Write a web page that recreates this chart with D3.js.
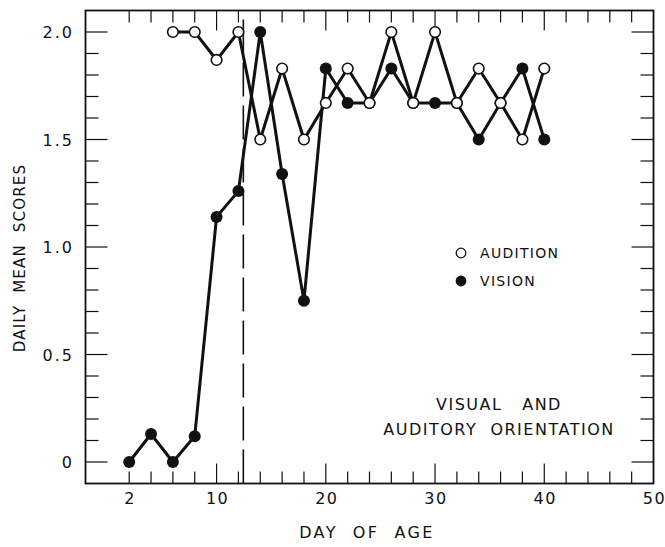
<!DOCTYPE html>
<html>
<head>
<meta charset="utf-8">
<script src="https://cdn.jsdelivr.net/npm/d3@7"></script>
<style>
  html, body { margin: 0; padding: 0; background: #fff; }
  svg text { font-family: "DejaVu Sans", "Liberation Sans", sans-serif; fill: #111; white-space: pre; }
</style>
</head>
<body>
<svg id="chart" width="665" height="547"></svg>
<script>
// ---- data ----
const visionDays   = [2, 4, 6, 8, 10, 12, 14, 16, 18, 20, 22, 24, 26, 28, 30, 32, 34, 36, 38, 40];
const visionScores = [0, 0.13, 0, 0.12, 1.14, 1.26, 2.0, 1.34, 0.75, 1.83, 1.67, 1.67, 1.83, 1.67, 1.67, 1.67, 1.5, 1.67, 1.83, 1.5];
const auditionDays   = [6, 8, 10, 12, 14, 16, 18, 20, 22, 24, 26, 28, 30, 32, 34, 36, 38, 40];
const auditionScores = [2.0, 2.0, 1.87, 2.0, 1.5, 1.83, 1.5, 1.67, 1.83, 1.67, 2.0, 1.67, 2.0, 1.67, 1.83, 1.67, 1.5, 1.83];
const xTickLabels = [2, 10, 20, 30, 40, 50];
const yTickLabels = [0, 0.5, 1.0, 1.5, 2.0];
const dashedDay = 12.45;
const legendLabels = ["AUDITION", "VISION"];
const noteLines = ["VISUAL   AND", "AUDITORY  ORIENTATION"];
const xTitle = "DAY  OF  AGE";
const yTitle = "DAILY  MEAN  SCORES";

// ---- layout ----
const svg = d3.select("#chart");
const x = d3.scaleLinear().domain([-2, 50]).range([85.5, 653.5]);
const y = d3.scaleLinear().domain([-0.1, 2.1]).range([483.5, 10.5]);
const [x0, x1] = x.range();
const [y0, y1] = y.range();

// frame
svg.append("rect")
  .attr("x", x0).attr("y", y1).attr("width", x1 - x0).attr("height", y0 - y1)
  .attr("fill", "none").attr("stroke", "#111").attr("stroke-width", 1.8);

const xMinor = d3.range(2, 50, 2);
const yMinor = d3.range(0, 2.001, 0.1).map(v => +v.toFixed(1));
const isXMajor = d => d % 10 === 0;
const isYMajor = v => Math.abs(v * 2 - Math.round(v * 2)) < 1e-6;

// bottom & top ticks
const tickG = svg.append("g").attr("stroke", "#111").attr("stroke-width", 1.2);
xMinor.forEach(d => {
  const len = isXMajor(d) ? 20 : 12;
  tickG.append("line").attr("x1", x(d)).attr("x2", x(d)).attr("y1", y0).attr("y2", y0 - len);
  tickG.append("line").attr("x1", x(d)).attr("x2", x(d)).attr("y1", y1).attr("y2", y1 + len);
});
// left & right ticks
yMinor.forEach(v => {
  const len = isYMajor(v) ? 22 : 13;
  tickG.append("line").attr("x1", x0).attr("x2", x0 + len).attr("y1", y(v)).attr("y2", y(v));
  tickG.append("line").attr("x1", x1).attr("x2", x1 - len).attr("y1", y(v)).attr("y2", y(v));
});

// tick labels
svg.append("g").selectAll("text").data(xTickLabels).join("text")
  .attr("x", d => x(d) + 1).attr("y", 504)
  .attr("text-anchor", "middle").attr("font-size", 16).attr("letter-spacing", 1.5)
  .text(d => d);
svg.append("g").selectAll("text").data(yTickLabels).join("text")
  .attr("x", 74).attr("y", v => y(v) + 6)
  .attr("text-anchor", "end").attr("font-size", 16).attr("letter-spacing", 2)
  .text(v => v === 0 ? "0" : v.toFixed(1));

// axis titles
svg.append("text").attr("x", 367).attr("y", 538)
  .attr("text-anchor", "middle").attr("font-size", 16).attr("letter-spacing", 2.4)
  .text(xTitle);
svg.append("text").attr("transform", "translate(25,258) rotate(-90)")
  .attr("text-anchor", "middle").attr("font-size", 15).attr("letter-spacing", 1.2)
  .text(yTitle);

// dashed vertical line
svg.append("line")
  .attr("x1", x(dashedDay)).attr("x2", x(dashedDay))
  .attr("y1", y0).attr("y2", y1)
  .attr("stroke", "#111").attr("stroke-width", 1.6)
  .attr("stroke-dasharray", "34,9");

// lines
const line = d3.line().x(d => x(d[0])).y(d => y(d[1]));
const audPts = auditionDays.map((d, i) => [d, auditionScores[i]]);
const visPts = visionDays.map((d, i) => [d, visionScores[i]]);
svg.append("path").datum(audPts).attr("d", line)
  .attr("fill", "none").attr("stroke", "#111").attr("stroke-width", 3).attr("stroke-linejoin", "miter");
svg.append("path").datum(visPts).attr("d", line)
  .attr("fill", "none").attr("stroke", "#111").attr("stroke-width", 3).attr("stroke-linejoin", "miter");

// markers
svg.append("g").selectAll("circle").data(visPts).join("circle")
  .attr("cx", d => x(d[0])).attr("cy", d => y(d[1])).attr("r", 6)
  .attr("fill", "#111");
svg.append("g").selectAll("circle").data(audPts).join("circle")
  .attr("cx", d => x(d[0])).attr("cy", d => y(d[1])).attr("r", 5.3)
  .attr("fill", "#fff").attr("stroke", "#111").attr("stroke-width", 1.6);

// legend
const legend = svg.append("g");
legend.append("circle").attr("cx", 461).attr("cy", 253).attr("r", 4.8)
  .attr("fill", "#fff").attr("stroke", "#111").attr("stroke-width", 1.3);
legend.append("circle").attr("cx", 461).attr("cy", 281).attr("r", 5.4).attr("fill", "#111");
legend.selectAll("text").data(legendLabels).join("text")
  .attr("x", 480).attr("y", (d, i) => 258 + i * 28)
  .attr("font-size", 14).attr("letter-spacing", 1.3)
  .text(d => d);

// note
svg.append("g").selectAll("text").data(noteLines).join("text")
  .attr("x", 499).attr("y", (d, i) => 410 + i * 25)
  .attr("text-anchor", "middle").attr("font-size", 16).attr("letter-spacing", 1.5)
  .text(d => d);
</script>
</body>
</html>
